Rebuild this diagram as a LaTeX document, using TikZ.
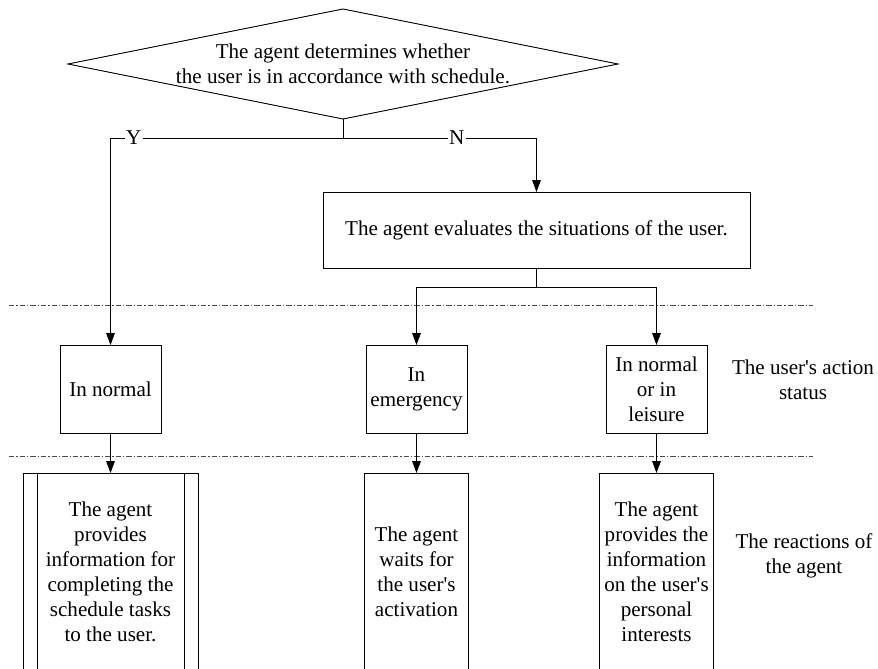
\documentclass[tikz,border=0pt]{standalone}
\usepackage{fontspec}
\setmainfont{Liberation Serif}[Ligatures=TeXOff]
\usetikzlibrary{shapes.geometric,arrows.meta}
\begin{document}
\begin{tikzpicture}[x=0.75pt,y=-0.75pt,
  every node/.style={font=\fontsize{15.8}{18.75}\selectfont},
  box/.style={draw, line width=0.7pt, inner sep=0pt, outer sep=0pt, align=center},
  arr/.style={line width=0.7pt, -{Triangle[length=9pt,width=6.5pt]}},
  conn/.style={line width=0.7pt},
  lbl/.style={fill=white, inner sep=1pt},
  sepline/.style={line width=0.5pt, draw=black!70, dash pattern=on 4pt off 1.5pt on 1pt off 1.5pt},
  side/.style={align=center, inner sep=0pt}]
\useasboundingbox (0,0) rectangle (878,668);

% decision
\node[diamond, draw, line width=0.7pt, minimum width=412.5pt, minimum height=82.5pt,
  inner sep=0pt, outer sep=0pt,
  label={[align=center, inner sep=0pt]center:The agent determines whether\\the user is in accordance with schedule.}]
  (dec) at (343,64) {};

\coordinate (split) at (343,138);
\coordinate (split2) at (536.5,287);

% evaluation
\node[box, minimum width=320.25pt, minimum height=57pt] (eval) at (536.5,230)
  {The agent evaluates the situations of the user.};

% status boxes
\node[box, minimum width=75.75pt, minimum height=66pt] (normal) at (110.5,389) {In normal};
\node[box, minimum width=75.75pt, minimum height=66pt] (emerg) at (416.5,389) {In\\emergency};
\node[box, minimum width=75.75pt, minimum height=66pt] (leis) at (656.5,389) {In normal\\or in\\leisure};

% reaction boxes
\begin{scope}
\clip (0,0) rectangle (878,668);
\node[box, minimum width=131.25pt, minimum height=148.5pt] (tasks) at (110.5,572)
  {The agent\\provides\\information for\\completing the\\schedule tasks\\to the user.};
\draw[line width=0.7pt] ([xshift=10.5pt]tasks.north west) -- ([xshift=10.5pt]tasks.south west);
\draw[line width=0.7pt] ([xshift=-10.5pt]tasks.north east) -- ([xshift=-10.5pt]tasks.south east);
\node[box, minimum width=78pt, minimum height=148.5pt] (wait) at (416.5,572)
  {The agent\\waits for\\the user's\\activation};
\node[box, minimum width=85.5pt, minimum height=148.5pt] (info) at (656.5,572)
  {The agent\\provides the\\information\\on the user's\\personal\\interests};
\end{scope}

% side labels
\node[side] (lab1) at (803,380) {The user's action\\status};
\node[side] (lab2) at (804,556) {The reactions of\\the agent};

% separator lines
\coordinate (s1a) at (9,305); \coordinate (s1b) at (813,305);
\coordinate (s2a) at (9,456); \coordinate (s2b) at (813,456);
\draw[sepline] (s1a) -- (s1b);
\draw[sepline] (s2a) -- (s2b);

% connectors
\draw[conn] (dec.south) -- (split);
\draw[arr] (split) -| node[lbl, pos=0.45] {Y} (normal.north);
\draw[arr] (split) -| node[lbl, pos=0.294] {N} (eval.north);
\draw[conn] (eval.south) -- (split2);
\draw[arr] (split2) -| (emerg.north);
\draw[arr] (split2) -| (leis.north);
\draw[arr] (normal.south) -- (tasks.north);
\draw[arr] (emerg.south) -- (wait.north);
\draw[arr] (leis.south) -- (info.north);
\end{tikzpicture}
\end{document}
